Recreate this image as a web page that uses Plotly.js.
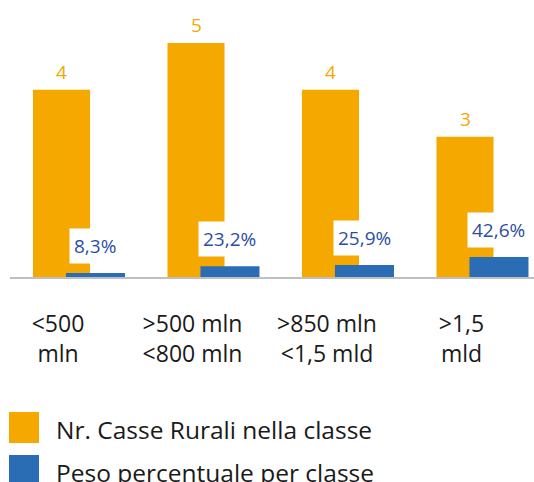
<!DOCTYPE html>
<html><head><meta charset="utf-8">
<script src="https://cdn.plot.ly/plotly-3.0.1.min.js"></script>
<style>html,body{margin:0;padding:0;background:#fff;}#chart{width:534px;height:482px;}</style>
</head><body><div id="chart"></div>
<script>
const categories = ['<500<br>mln', '>500 mln<br><800 mln', '>850 mln<br><1,5 mld', '>1,5<br>mld'];
const countValues = [4, 5, 4, 3];
const pctValues = [8.3, 23.2, 25.9, 42.6];
const seriesNames = ['Nr. Casse Rurali nella classe', 'Peso percentuale per classe'];

const ORANGE = '#F5A800', BLUE = '#2A6DB5', BLUE_TXT = '#2B4EA2';
const FONT = '"Open Sans", Lato, sans-serif';
const wO = 0.424, offO = -0.186, wB = 0.439, offB = 0.059;

const idx = categories.map((c, i) => i);
const traces = [
  {type: 'bar', x: categories, y: countValues, name: seriesNames[0], marker: {color: ORANGE},
   width: wO, offset: offO, hoverinfo: 'skip'},
  {type: 'bar', x: categories, y: pctValues.map(v => v / 100), name: seriesNames[1], marker: {color: BLUE},
   width: wB, offset: offB, hoverinfo: 'skip'}
];

const annotations = [];
idx.forEach(i => {
  annotations.push({x: i + offO + wO / 2, y: countValues[i], xref: 'x', yref: 'y', text: String(countValues[i]),
    showarrow: false, yanchor: 'middle', yshift: 18, font: {family: FONT, size: 19, color: ORANGE}});
  annotations.push({x: i + offB + wB / 2, y: pctValues[i] / 100, xref: 'x', yref: 'y',
    text: pctValues[i].toFixed(1).replace('.', ',') + '%',
    showarrow: false, yanchor: 'middle', yshift: 27, bgcolor: '#ffffff', borderpad: 4,
    font: {family: FONT, size: 19, color: BLUE_TXT}});
});
// custom legend
const legendRows = [{name: seriesNames[0], color: ORANGE, top: 412}, {name: seriesNames[1], color: BLUE, top: 455}];
const shapes = [];
const py = Y => (277 - Y) / 277, px = X => (X - 10) / 524;
legendRows.forEach(r => {
  shapes.push({type: 'rect', xref: 'paper', yref: 'paper', x0: px(9), x1: px(39), y0: py(r.top + 31), y1: py(r.top),
    fillcolor: r.color, line: {width: 0}});
  annotations.push({xref: 'paper', yref: 'paper', x: px(54), y: py(r.top + 17), xanchor: 'left', yanchor: 'middle',
    text: r.name, showarrow: false, font: {family: FONT, size: 24.5, color: '#1a1a1a'}});
});

const layout = {
  width: 534, height: 482, margin: {l: 10, r: 0, t: 0, b: 205},
  paper_bgcolor: '#fff', plot_bgcolor: '#fff', showlegend: false, barmode: 'overlay',
  xaxis: {type: 'category', range: [-0.357, 3.539], showline: true, linecolor: '#BFBFBF', linewidth: 2,
    ticks: 'outside', ticklen: 25, tickcolor: 'rgba(0,0,0,0)', showgrid: false, zeroline: false,
    tickfont: {family: FONT, size: 23, color: '#1a1a1a'}, fixedrange: true},
  yaxis: {range: [0, 5.92], visible: false, showgrid: false, zeroline: false, fixedrange: true},
  annotations: annotations, shapes: shapes
};
Plotly.newPlot('chart', traces, layout, {displayModeBar: false, staticPlot: true});
</script></body></html>
